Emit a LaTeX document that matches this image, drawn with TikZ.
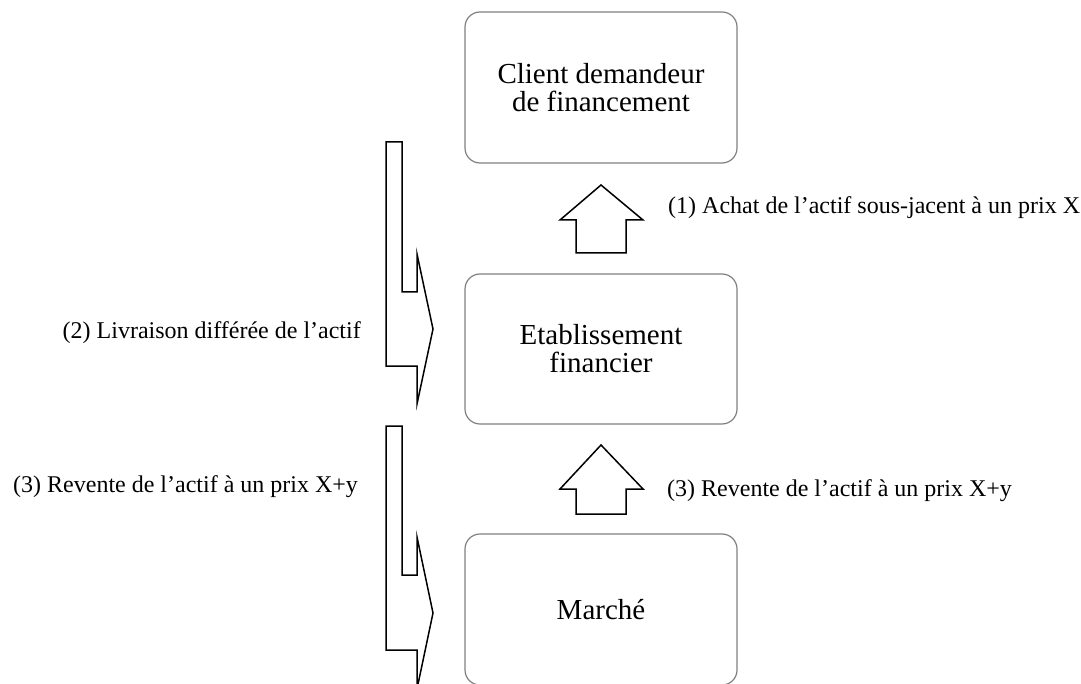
\documentclass[tikz,border=0pt]{standalone}
\usepackage{fontspec}
\setmainfont{Liberation Serif}
\begin{document}
\begin{tikzpicture}[x=1pt,y=-1pt,
  box/.style={draw=black!50, line width=1.2pt, rounded corners=15pt, fill=white,
    minimum width=272pt, inner sep=0pt, align=center,
    font=\fontsize{29}{28}\selectfont},
  lbl/.style={inner sep=0pt, font=\fontsize{24}{28}\selectfont},
  blockarrow/.style={draw=black, line width=1.5pt, line join=miter, fill=white}]
\useasboundingbox (0,0) rectangle (1081,684);
\clip (0,0) rectangle (1081,684);
\node[box, minimum height=151pt] (client) at (601,87.5) {Client demandeur\\de financement};
\node[box, minimum height=150pt] (etab) at (601,349) {Etablissement\\financier};
\node[box, minimum height=151pt] (marche) at (601,609.5) {March\'e};
% up arrows
\draw[blockarrow] (576,253) -- (576,220) -- (560,220) -- (601,185) -- (643,220) -- (626,220) -- (626,253) -- cycle;
\draw[blockarrow] (576,514) -- (576,489) -- (560,489) -- (601,445) -- (643,489) -- (626,489) -- (626,514) -- cycle;
% bent arrows
\draw[blockarrow] (386,142) -- (402,142) -- (402,292) -- (417,292) -- (417,254) -- (433,329) -- (417,404) -- (417,366) -- (386,366) -- cycle;
\draw[blockarrow] (386,426) -- (402,426) -- (402,575) -- (417,575) -- (417,537) -- (433,613) -- (417,689) -- (417,650) -- (386,650) -- cycle;
% labels
\node[lbl, anchor=base west] (l1) at (668,214) {(1) Achat de l’actif sous-jacent à un prix X};
\node[lbl, anchor=base east] (l2) at (361,338) {(2) Livraison différée de l’actif};
\node[lbl, anchor=base west] (l3a) at (13,492) {(3) Revente de l’actif à un prix X+y};
\node[lbl, anchor=base west] (l3b) at (667,496) {(3) Revente de l’actif à un prix X+y};
\end{tikzpicture}
\end{document}
